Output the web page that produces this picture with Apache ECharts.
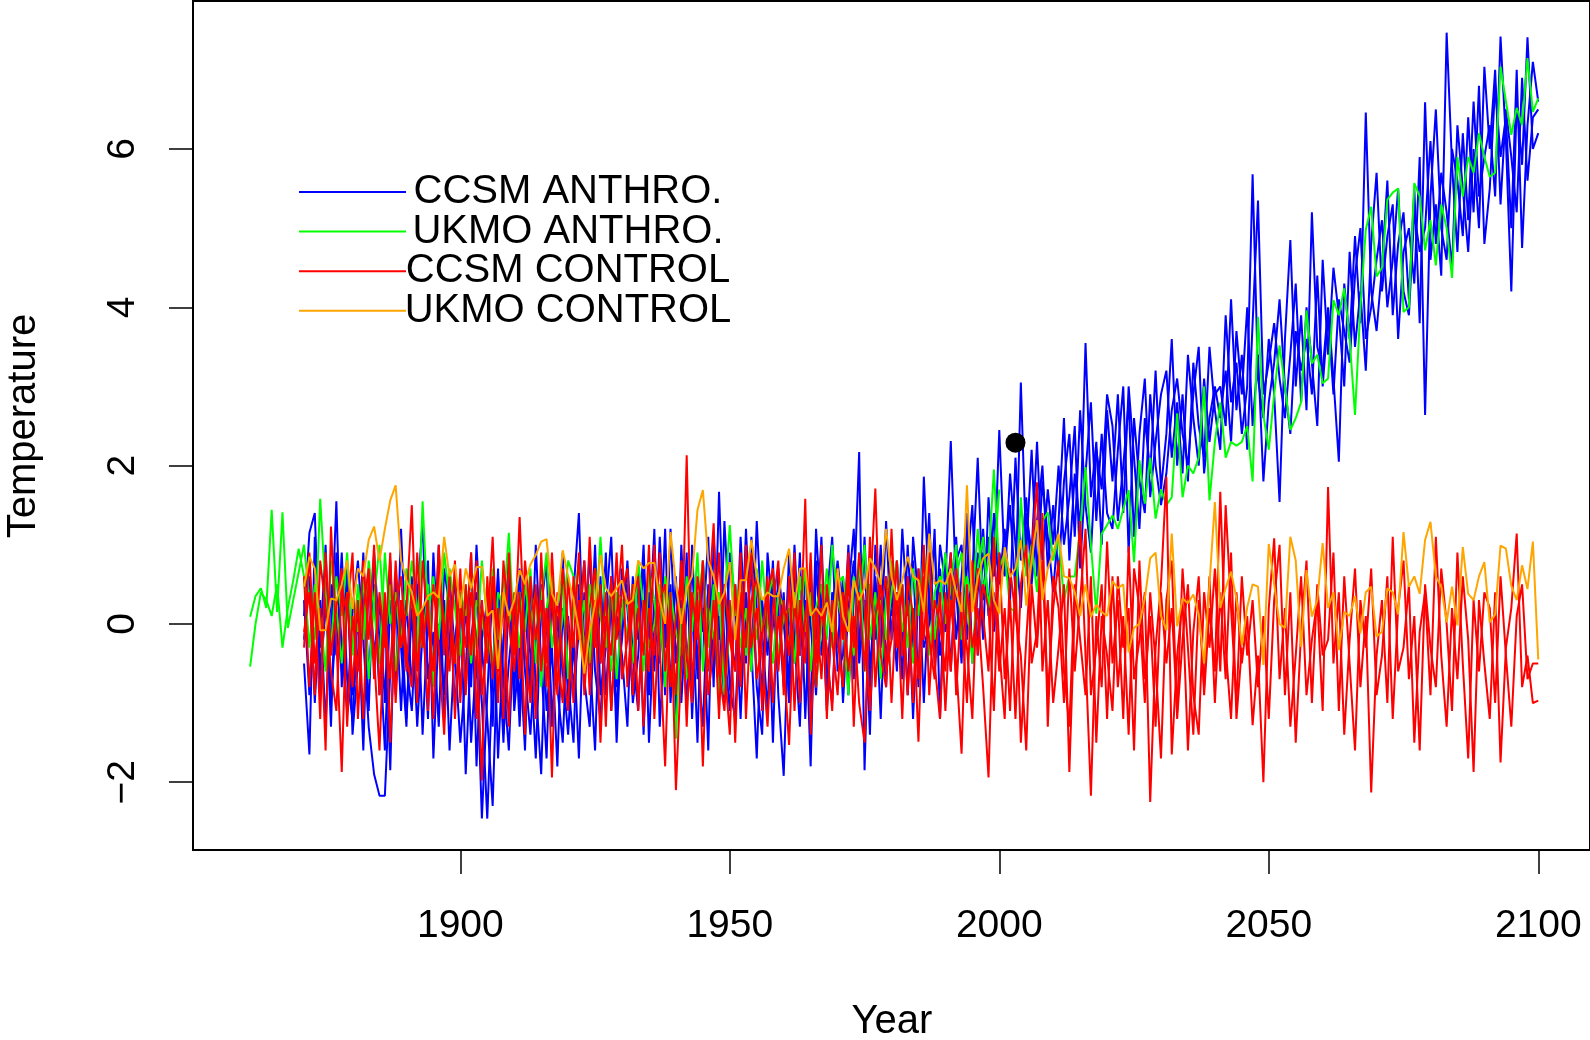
<!DOCTYPE html>
<html><head><meta charset="utf-8">
<script src="https://cdn.jsdelivr.net/npm/echarts@6/dist/echarts.min.js"></script>
<style>html,body{margin:0;padding:0;background:#fff}#c{width:1590px;height:1040px}</style>
</head><body><div id="c"></div><script>
// ---------- data ----------
const seriesNames = ['CCSM ANTHRO.', 'UKMO ANTHRO.', 'CCSM CONTROL', 'UKMO CONTROL'];
const xTickValues = [1900, 1950, 2000, 2050, 2100];
const yTickValues = [-2, 0, 2, 4, 6];
const xAxisTitle = 'Year';
const yAxisTitle = 'Temperature';
const markerPoint = [2003, 2.29];

const ccsmAnthroStart = 1871;
const ccsmAnthro1 = [
-0.5,-1.65,1.1,-0.9,0.4,-1.3,0.9,-0.3,-1.1,0.2,
0.8,-0.2,-1.3,-1.9,-2.17,-2.17,-0.6,0.4,-1.1,0.3,
-0.8,0.5,-1.4,0.1,-0.6,1.0,-1.2,-0.2,0.6,-0.9,
0.3,-1.5,-0.4,-2.46,-0.9,0.5,-1.7,-0.2,0.8,-1.1,
-0.3,-1.6,0.6,-0.8,-1.9,0.2,-1.2,-0.4,0.9,-1.0,
0.4,1.4,-0.7,-1.3,0.3,-0.5,0.9,-1.1,0.1,-0.4,
-1.3,0.6,-0.2,1.0,-0.9,0.3,-0.5,1.2,-1.0,0.1,
-0.6,0.9,-1.2,0.4,-0.1,1.1,-0.8,1.67,-0.3,-1.1,
0.5,-0.7,1.2,-0.3,-1.7,0.3,-0.4,0.8,-0.9,-1.92,
0.2,-0.5,0.9,-1.2,0.5,-0.2,1.1,-0.8,0.4,-0.3,
0.6,-0.9,0.3,2.17,-1.85,0.5,-0.2,1.0,-0.5,0.4,
-0.6,1.2,0.1,0.8,-0.8,1.86,0.3,-0.4,1.0,0.5,
2.31,0.4,-0.5,1.3,0.2,0.9,-0.2,1.6,0.6,2.45,
0.7,1.5,0.4,3.05,0.9,2.2,0.6,1.8,1.1,0.4,
1.3,2.6,0.8,1.9,1.2,3.55,1.6,2.3,1.0,2.7,
1.8,2.9,1.4,3.0,2.1,1.2,2.6,1.9,3.2,1.7,
2.4,3.6,2.0,2.9,1.8,3.3,2.5,2.1,3.5,2.7,
2.2,3.9,2.8,3.3,2.4,3.0,5.68,3.1,2.6,3.6,
2.9,1.54,3.6,4.85,3.0,3.9,2.7,5.2,3.5,3.2,
4.0,3.1,2.05,4.3,3.6,4.9,3.8,6.46,4.2,3.7,
4.5,5.6,3.9,4.8,5.2,4.1,5.5,3.8,6.59,4.6,
5.3,4.4,7.47,5.8,4.7,6.2,5.1,6.6,5.4,5.9,
6.3,5.4,7.42,6.1,4.2,6.6,5.8,7.41,6.0,6.2];
const ccsmAnthro2 = [
0.1,1.15,1.4,-0.6,0.2,-0.2,1.55,-0.8,0.5,-0.9,
-0.4,0.9,-0.7,0.5,-0.9,0.2,-1.85,0.6,-0.3,-1.3,
0.6,-0.5,0.2,-1.2,0.9,-0.4,0.3,-1.6,-0.2,0.4,
-1.9,-0.2,0.4,-1.0,-2.46,-0.6,0.7,-1.4,-0.5,0.2,
-1.3,0.3,-0.9,1.0,-0.5,-1.7,0.4,-0.8,-1.5,0.1,
-0.8,-0.1,0.8,-0.4,-1.6,0.6,-0.9,0.3,-1.2,0.7,
0.2,-0.9,0.7,-1.4,0.4,-0.6,1.1,-0.3,0.5,-1.2,
1.0,-0.5,0.3,-1.5,0.8,-0.2,0.6,-0.9,1.3,0.0,
-0.6,1.1,-0.2,0.7,-0.8,-1.4,0.9,0.1,-0.5,0.4,
-1.0,0.6,-0.3,0.2,-1.8,0.8,-0.4,0.3,1.1,-0.6,
-0.4,1.0,-0.7,0.5,0.9,-0.9,0.6,-0.3,1.3,-0.2,
0.8,-0.3,0.6,-1.2,0.4,0.2,1.4,-0.5,0.7,-0.1,
0.3,1.1,-0.3,0.7,1.5,-0.4,0.9,0.2,1.4,0.5,
1.2,0.3,2.1,0.8,1.6,0.5,1.3,2.0,0.7,1.5,
0.6,1.8,2.4,1.1,2.7,1.5,0.9,2.2,1.7,2.9,
2.5,1.3,2.0,2.8,1.1,2.4,3.1,1.6,2.3,2.9,
3.2,2.1,2.8,1.9,3.4,2.6,2.0,3.1,2.3,2.9,
3.0,2.5,4.1,2.7,3.4,2.2,3.8,5.35,2.9,3.3,
3.8,3.1,2.6,3.4,4.3,2.8,4.0,3.3,2.5,4.6,
3.4,4.5,3.9,3.0,4.7,3.5,4.2,3.2,4.8,5.7,
4.2,4.9,5.3,3.6,4.7,5.0,4.3,5.9,2.64,5.4,
6.5,5.0,4.6,6.0,5.6,4.9,6.4,5.2,6.8,4.8,
5.5,6.8,5.9,6.4,5.0,7.0,4.75,6.3,7.1,6.6];
const ccsmAnthro3 = [
-0.2,0.6,-1.0,0.3,-1.3,0.5,-0.4,0.9,-0.7,-1.2,
0.2,-1.6,0.6,-0.4,0.3,-1.0,0.8,-0.9,1.2,-0.5,
-1.1,0.3,1.3,-0.7,-0.1,-1.3,0.7,0.2,-1.0,-0.3,
0.4,-0.8,1.0,-0.3,-1.2,-2.3,-0.1,-1.5,0.5,-0.9,
0.7,-0.6,-1.4,-0.2,0.5,-1.1,-0.3,-1.8,0.2,-0.7,
-1.5,0.5,-0.3,0.9,-0.6,-1.2,0.2,1.1,-0.8,-0.2,
0.8,-0.4,-1.1,0.3,-0.2,1.2,-1.3,0.0,-0.7,0.6,
-1.0,0.2,0.7,-0.4,-1.3,0.5,-0.6,0.1,-1.0,0.9,
0.3,-1.2,0.4,-0.6,1.3,-0.1,-1.1,0.6,0.2,-0.8,
0.9,-0.2,-1.3,0.7,0.0,-0.9,0.5,-1.1,0.2,0.8,
0.1,0.4,1.2,-0.5,0.3,-1.4,1.0,0.2,-0.8,0.7,
-0.2,0.5,-0.9,1.1,0.3,-0.3,0.0,1.2,-1.2,0.9,
-0.6,0.8,1.0,-0.2,0.6,2.1,0.3,1.1,-0.1,0.9,
0.6,1.9,1.0,0.2,1.4,0.9,2.3,0.8,1.7,1.0,
2.0,1.0,1.6,2.5,0.7,1.9,2.8,1.3,2.4,1.4,
1.2,2.2,3.0,0.9,2.6,1.8,1.4,2.9,2.0,1.5,
1.9,2.7,3.1,2.4,2.0,2.9,3.5,1.9,2.6,3.0,
2.6,3.2,2.3,3.7,2.9,4.0,2.5,3.4,1.8,2.8,
3.3,4.1,3.0,2.4,3.7,3.2,3.6,2.9,4.4,3.0,
3.9,2.9,4.1,3.7,3.3,4.4,5.0,3.6,4.0,4.6,
5.1,4.0,4.6,5.5,4.2,3.9,5.2,4.7,5.0,6.1,
4.8,5.7,5.2,4.5,6.3,5.5,4.7,6.0,5.0,7.04,
6.0,7.0,5.3,6.5,5.9,5.2,6.9,5.6,6.4,6.5];
const ccsmAnthro4 = [
0.3,-0.9,0.5,-0.3,1.0,-1.0,0.1,-0.6,0.7,-1.4,
-0.5,0.4,-1.1,0.9,-0.2,-1.6,0.3,-0.8,0.1,-1.2,
0.2,-1.3,-0.1,0.8,-1.7,0.0,-0.9,0.6,-0.4,-1.5,
-0.6,0.9,-1.8,-0.2,0.3,-1.3,0.6,-0.7,-1.6,0.1,
-1.0,0.5,-0.4,-1.7,0.2,0.8,-1.3,0.1,-0.6,-1.4,
-0.2,-1.7,0.4,-0.5,1.0,-0.9,-0.3,0.6,-1.5,0.2,
0.5,-1.0,-0.4,0.8,-1.5,0.1,0.4,-0.9,1.2,-0.5,
0.3,-1.1,1.0,-0.7,0.2,-1.6,1.1,-0.2,0.5,-0.8,
-1.2,0.3,-0.5,1.1,0.2,-0.9,0.5,-1.5,0.7,0.0,
-0.7,1.0,-0.4,0.3,-1.1,1.2,0.0,-0.5,-1.0,0.6,
-1.0,0.2,0.8,-0.3,1.1,-0.6,0.4,-1.2,0.6,0.1,
0.4,-0.7,1.0,-0.3,0.7,-1.0,0.5,1.0,-0.4,0.2,
0.9,-0.2,0.6,1.4,-0.5,0.4,1.2,0.1,1.0,0.6];

const ukmoAnthroStart = 1861;
const ukmoAnthro1 = [
0.09,0.35,0.45,0.2,1.44,0.15,1.41,-0.05,0.3,0.65,
1.0,0.3,-0.2,1.58,0.4,-0.3,0.6,0.1,0.9,-0.4,
0.5,-0.2,0.8,0.2,-0.5,0.9,0.0,0.4,-0.3,0.7,
0.3,-0.4,1.55,0.1,0.6,-0.2,0.9,0.3,-0.5,0.4,
0.1,0.6,-0.3,0.8,0.0,-0.6,0.4,0.2,1.15,-0.2,
0.4,-0.1,0.7,-0.5,0.3,0.9,-0.3,0.2,0.6,-0.7,
0.2,0.8,-0.4,0.5,-0.1,1.1,0.0,-0.6,0.4,0.3,
-0.2,0.5,0.1,-0.6,0.7,0.3,-0.4,0.6,0.0,-1.45,
0.2,-0.7,0.4,0.1,0.8,-0.3,0.5,-1.0,0.3,1.25,
0.1,0.6,-0.4,0.3,-0.2,0.8,0.0,-0.5,0.4,0.2,
-0.3,0.4,0.1,0.7,-0.6,0.2,0.5,-0.2,1.0,0.3,
0.0,-0.9,0.6,0.2,1.0,-0.2,0.4,-0.7,0.3,0.8,
0.2,0.5,-0.3,0.7,0.1,0.9,-0.4,0.4,0.6,0.0,
0.5,1.0,-0.2,0.6,0.3,1.2,0.4,0.8,1.95,0.7,
0.9,0.2,0.15,1.6,0.6,1.0,0.4,1.3,1.41,0.8,
1.1,0.3,0.6,0.6,1.2,1.98,1.0,0.13,1.14,1.25,
1.37,1.2,1.45,1.69,0.78,2.07,1.52,2.1,1.33,1.7,
1.5,1.6,2.66,1.6,2.0,1.9,2.1,3.0,1.56,2.3,
2.8,2.1,2.3,2.25,2.3,2.5,1.8,3.88,2.64,2.2,
2.9,3.52,3.0,2.45,2.6,2.8,3.96,3.29,3.4,3.04,
3.1,4.09,3.9,4.24,3.6,2.64,4.0,4.98,5.27,4.39,
4.5,5.36,5.45,5.5,3.94,4.0,5.57,5.4,4.72,5.1,
4.53,5.3,5.0,4.37,5.9,5.4,5.9,5.7,6.2,5.9,
5.65,5.7,7.04,6.6,6.18,6.52,6.3,7.15,6.47,6.64];
const ukmoAnthro2 = [
-0.54,0.0,0.4,0.3,0.1,0.5,-0.3,0.2,0.55,0.95,
0.6,-0.3,0.5,0.1,-0.6,0.8,0.2,-0.5,0.4,0.3,
-0.1,0.6,-0.7,0.3,1.0,-0.2,0.5,-0.6,0.2,0.1,
0.8,0.2,-0.3,0.5,-0.8,0.4,-0.1,0.7,0.2,-0.4,
0.5,-0.5,0.3,0.1,-0.4,0.7,-0.2,0.6,0.0,0.3,
-0.3,0.5,0.0,0.4,-0.8,0.2,0.6,-0.4,0.1,0.8,
0.6,-0.2,0.3,-0.5,0.7,0.1,-0.3,0.5,-0.7,0.2,
0.3,-0.5,0.8,0.2,-0.3,0.0,0.5,-0.8,0.4,-0.1,
-0.4,0.6,-0.1,0.9,-0.6,0.2,-0.2,0.4,-0.9,0.0,
0.5,-0.3,0.2,-0.6,0.7,-0.1,0.3,0.6,-0.4,0.1,
0.2,-0.5,0.6,-0.1,0.4,-0.8,0.0,0.7,-0.3,0.5,
0.6,0.1,-0.4,0.9,-0.6,0.5,0.0,0.3,-0.2,0.4,
0.8,-0.1,0.3,-0.5,0.6,0.2,0.7,-0.2,0.4,0.9,
0.1,0.6,0.9,0.3,-0.5,0.7,1.1,0.2,0.8,1.7];

const ccsmControlStart = 1871;
const ccsmControl1 = [
-0.3,0.9,-0.5,0.2,-1.6,1.23,-0.2,-1.87,0.4,-0.8,
0.3,-1.2,0.6,-0.4,-1.6,0.1,-0.7,0.8,-0.3,0.2,
1.5,-0.6,0.2,-1.1,0.5,-0.3,-1.4,0.3,-0.5,0.7,
-0.9,0.4,-0.2,-1.98,0.6,-0.7,0.2,-1.2,0.9,-0.4,
1.35,-0.3,-1.0,0.5,-0.6,0.2,-1.94,0.4,-0.5,-1.1,
0.6,-0.2,0.8,-0.9,0.3,-1.5,0.1,-0.4,0.9,-0.7,
-0.2,0.5,-1.1,0.3,-0.6,1.0,-0.3,-1.8,0.4,-2.1,
-0.5,2.13,-0.8,0.3,-1.8,0.2,1.27,-0.6,-1.1,0.3,
-1.5,0.4,-0.3,0.9,-0.7,-0.2,0.6,-1.0,0.1,-0.5,
-1.53,0.3,-0.4,1.58,-1.4,0.2,-0.7,0.5,-0.2,-0.9,
0.4,-0.6,0.1,-1.0,-1.5,0.3,1.71,-0.4,-0.8,1.2,
-0.3,0.5,-0.9,0.2,-1.49,0.6,-0.2,-0.7,0.4,-1.1,
0.3,-0.5,-1.64,0.5,-0.3,0.2,-0.8,-1.94,0.4,-0.6,
0.2,-1.1,0.6,-1.5,-0.2,0.9,1.79,-0.6,0.3,-1.0,
-0.3,0.5,-1.87,0.2,1.3,-0.4,-2.17,0.1,-0.8,1.04,
-0.5,0.3,-1.2,0.98,-0.7,-0.2,0.4,-2.25,-0.3,0.5,
1.86,-1.65,-0.4,0.3,-1.6,-0.1,0.6,-0.9,0.2,-0.6,
1.67,-0.3,-1.2,0.4,-0.5,0.1,-1.28,-0.4,-2.0,0.2,
1.08,-0.7,0.2,-1.3,-0.4,0.6,-0.9,-0.2,0.3,-1.1,
1.73,-0.5,0.4,-1.4,-0.2,0.7,-0.8,0.1,-2.13,-0.4,
0.3,-1.0,1.1,-0.6,-0.3,0.5,-1.5,-0.1,0.4,-0.9,
1.1,-0.4,-1.3,0.2,-0.7,0.6,-0.2,-1.87,0.3,-0.5,
-1.2,0.4,-1.75,-0.3,0.2,1.14,-0.8,-0.4,-1.0,-0.97];
const ccsmControl2 = [
0.6,-0.8,0.4,-1.2,0.9,-0.4,0.2,0.7,-1.3,0.1,
-0.6,0.8,-0.2,1.0,-0.9,0.4,-1.5,0.2,0.6,-0.4,
-0.8,0.9,-0.3,0.3,-1.2,0.7,0.0,-0.6,0.8,-1.0,
0.5,-0.4,0.8,-0.9,-0.1,1.1,-0.6,0.3,-1.3,0.4,
-0.7,0.8,0.1,-1.2,0.9,-0.5,0.4,-0.9,0.7,0.0,
-1.0,0.3,-0.6,1.1,-0.3,0.5,-1.3,0.6,-0.2,0.4,
0.7,-0.9,0.2,-0.4,1.0,-1.2,0.3,0.5,-0.8,0.1,
0.6,-1.3,0.4,-0.2,0.8,-0.9,-0.3,0.9,-0.5,-1.4,
0.5,-0.8,1.0,-0.3,0.2,-1.1,0.4,0.7,-0.6,0.3,
-0.4,0.9,-1.0,0.1,0.6,-0.5,1.0,-1.2,0.3,-0.2,
-0.8,0.6,-0.3,0.9,0.2,-1.1,0.1,0.5,-0.6,-0.2,
0.8,-0.4,0.3,-1.0,0.7,-0.2,0.9,-0.5,-1.2,0.4,
-0.6,0.7,0.1,-1.0,0.8,-0.4,0.5,0.2,-1.1,0.9,
-0.7,0.3,-1.2,0.5,1.0,-0.5,-0.1,1.4,-1.3,0.6,
0.2,-1.0,0.7,-0.6,0.3,1.2,-0.9,-0.3,0.5,-1.2,
0.6,-0.8,0.1,-1.4,0.7,0.2,-1.0,0.4,-0.5,-1.7,
0.3,0.8,-1.2,-0.2,0.5,-0.9,-1.4,0.4,-0.3,0.7,
-0.6,1.5,0.2,-1.0,0.6,-0.4,0.3,-0.8,0.1,-1.2,
0.3,1.0,-0.9,0.4,-1.5,-0.1,0.8,-1.0,0.5,-0.4,
-0.2,0.9,-1.1,0.6,-0.5,-1.6,0.3,-0.3,0.7,-0.9,
-0.4,0.6,-1.2,0.2,0.8,-0.7,0.1,-1.6,0.5,-0.3,
-0.8,0.7,0.0,-1.1,0.9,-0.5,-1.7,0.3,-0.6,0.4,
0.2,-1.0,0.6,-0.4,-1.3,0.1,0.5,-0.7,-0.5,-0.5];
const ccsmControl3 = [
-0.1,0.4,-0.9,0.8,0.2,-0.6,-1.1,0.5,0.1,0.9,
-1.2,0.2,0.7,-0.7,0.4,-0.3,0.9,-1.0,0.3,-0.6,
0.5,-1.0,0.8,0.0,-0.6,1.0,-0.4,0.6,-1.2,0.2,
-0.3,0.9,-1.2,0.3,-0.5,0.6,-1.0,0.8,0.0,-0.6,
0.4,-1.4,0.6,-0.2,0.3,-0.8,0.9,-0.4,-1.0,0.6,
-0.3,0.9,-0.9,0.2,0.7,-0.5,0.4,-1.1,0.1,1.0,
-0.8,0.3,0.6,-1.3,0.2,-0.4,0.9,-0.6,0.3,-0.9,
0.8,-0.4,-1.0,0.6,0.1,-0.6,0.3,-1.2,0.5,-0.2,
-0.6,0.9,-1.2,0.3,0.6,-0.4,-1.3,0.2,0.8,-0.9,
0.6,-1.1,0.3,-0.5,0.9,-0.8,0.2,-0.3,-1.1,0.7,
-0.2,0.9,-1.3,0.4,-0.6,1.1,-0.8,0.2,0.6,-1.0,
0.4,-1.2,0.6,0.1,-0.7,1.0,-0.9,0.3,0.0,-0.6,
0.9,-0.9,0.4,-0.3,-1.2,0.7,0.1,-0.6,1.1,-0.3,
-1.2,0.7,0.1,-0.4,-1.6,0.5,-0.3,0.8,-0.9,0.2,
0.8,-0.6,-1.3,0.5,-0.2,-0.9,0.6,-1.5,0.1,-0.4,
-1.1,0.6,-0.3,0.2,-1.6,0.8,-0.7,0.1,-1.3,0.4,
-0.5,0.2,-1.1,0.7,-0.3,-1.4,0.3,-0.8,0.6,-1.0,
0.4,-0.7,0.9,-1.2,-0.3];

const ukmoControlStart = 1871;
const ukmoControl = [
0.47,0.85,0.7,-0.08,-0.08,0.32,0.3,0.5,0.8,0.19,
0.7,0.6,1.06,1.23,0.8,1.2,1.56,1.75,0.8,0.55,
0.4,0.1,0.2,0.35,0.4,0.33,1.1,0.6,0.75,0.2,
0.7,0.45,0.72,0.72,0.1,0.17,-0.57,0.4,0.1,0.3,
0.68,0.5,0.75,0.87,1.04,1.07,0.38,0.23,0.93,0.6,
0.3,-0.08,-0.63,-0.1,0.25,0.87,0.45,0.35,0.45,0.55,
0.25,0.3,0.8,0.7,0.77,0.77,0.3,0.0,1.16,0.5,
0.0,0.45,0.6,1.44,1.69,0.8,0.6,0.25,0.4,0.78,
-0.2,0.55,0.55,1.06,0.6,0.3,0.4,0.35,0.35,0.7,
0.95,0.2,0.7,0.7,0.1,0.2,0.1,0.27,-0.1,0.7,
0.1,-0.1,0.55,0.3,0.45,0.83,0.7,0.5,1.2,0.6,
0.3,0.55,0.85,0.6,0.55,0.15,1.14,0.5,0.55,0.5,
0.7,0.4,0.15,1.75,0.15,0.59,0.83,0.89,0.3,0.13,
0.97,0.59,0.7,1.06,0.23,0.8,1.31,0.3,0.7,0.9,
1.14,0.6,0.58,0.4,0.1,0.5,0.09,0.24,0.15,0.1,
0.54,0.45,0.5,-0.36,-0.05,0.0,0.32,0.83,0.9,0.1,
-0.08,1.14,-0.03,0.32,0.26,0.37,0.12,-0.5,0.5,1.54,
0.2,0.45,0.66,0.32,-0.27,0.21,0.5,0.47,-0.52,1.01,
0.5,0.0,-0.05,1.1,0.8,-0.29,0.68,0.09,0.3,1.02,
0.2,0.4,-0.33,0.15,0.1,0.35,-0.12,0.4,0.47,-0.16,
-0.1,0.45,0.4,0.12,1.16,0.47,0.6,0.38,1.06,1.29,
0.6,0.47,0.02,0.47,-0.02,0.97,0.38,0.3,0.6,0.78,
0.02,0.12,0.99,0.95,0.48,0.3,0.74,0.44,1.04,-0.45];

// ---------- chart ----------
const COLORS = { blue: '#0000ff', green: '#00ff00', red: '#ff0000', orange: '#ffa500' };
const legendColors = [COLORS.blue, COLORS.green, COLORS.red, COLORS.orange];
const FONT = '"Liberation Sans", Arial, Helvetica, sans-serif';
const toPairs = (start, arr) => arr.map((v, i) => [start + i, v]);
const runs = [
  [ccsmAnthroStart, ccsmAnthro1, COLORS.blue, seriesNames[0]],
  [ccsmAnthroStart, ccsmAnthro2, COLORS.blue, seriesNames[0]],
  [ccsmAnthroStart, ccsmAnthro3, COLORS.blue, seriesNames[0]],
  [ccsmAnthroStart, ccsmAnthro4, COLORS.blue, seriesNames[0]],
  [ukmoAnthroStart, ukmoAnthro1, COLORS.green, seriesNames[1]],
  [ukmoAnthroStart, ukmoAnthro2, COLORS.green, seriesNames[1]],
  [ccsmControlStart, ccsmControl1, COLORS.red, seriesNames[2]],
  [ccsmControlStart, ccsmControl2, COLORS.red, seriesNames[2]],
  [ccsmControlStart, ccsmControl3, COLORS.red, seriesNames[2]],
  [ukmoControlStart, ukmoControl, COLORS.orange, seriesNames[3]]
];
const series = runs.map(([s, arr, col, nm]) => ({
  type: 'line', name: nm, data: toPairs(s, arr), showSymbol: false, symbol: 'none',
  lineStyle: { color: col, width: 2 }, itemStyle: { color: col }, silent: true, animation: false
}));
series.push({
  type: 'scatter', data: [markerPoint], symbol: 'circle', symbolSize: 20,
  itemStyle: { color: '#000', opacity: 1 }, silent: true, animation: false, z: 5
});

const GRID = { left: 193, top: 1, width: 1398, height: 849 };
const graphics = [];
seriesNames.forEach((nm, i) => {
  const y = 192 + 39.6 * i;
  graphics.push({ type: 'line', shape: { x1: 299, y1: y, x2: 406, y2: y }, style: { stroke: legendColors[i], lineWidth: 2 }, z: 10 });
  graphics.push({ type: 'text', x: 568, y: y, style: { text: nm, font: '40px ' + FONT, fill: '#000', align: 'center', verticalAlign: 'middle' }, z: 11 });
});
graphics.push({ type: 'text', x: 892, y: 1022, style: { text: xAxisTitle, font: '40px ' + FONT, fill: '#000', align: 'center', verticalAlign: 'middle' } });
graphics.push({ type: 'text', x: 24, y: 426, rotation: Math.PI / 2, style: { text: yAxisTitle, font: '40px ' + FONT, fill: '#000', align: 'center', verticalAlign: 'middle' } });

const chart = echarts.init(document.getElementById('c'), null, { renderer: 'canvas' });
chart.setOption({
  animation: false,
  backgroundColor: '#fff',
  grid: Object.assign({ show: true, borderColor: '#000', borderWidth: 2, backgroundColor: 'transparent' }, GRID),
  xAxis: {
    type: 'value', min: 1850.4, max: 2109.6,
    splitLine: { show: false },
    axisLine: { show: true, onZero: false, lineStyle: { color: '#000', width: 2 } },
    axisTick: { show: true, customValues: xTickValues, length: 24, inside: false, lineStyle: { color: '#000', width: 1.5 } },
    axisLabel: { customValues: xTickValues, fontSize: 39, fontFamily: FONT, color: '#000', margin: 57,
      formatter: v => String(v) }
  },
  yAxis: {
    type: 'value', min: -2.857, max: 7.87,
    splitLine: { show: false },
    axisLine: { show: true, onZero: false, lineStyle: { color: '#000', width: 2 } },
    axisTick: { show: true, customValues: yTickValues, length: 24, inside: false, lineStyle: { color: '#000', width: 1.5 } },
    axisLabel: { customValues: yTickValues, rotate: 90, fontSize: 39, fontFamily: FONT, color: '#000', margin: 50,
      formatter: v => (v < 0 ? '\u2212' + Math.abs(v) : String(v)) }
  },
  series: series,
  graphic: graphics
});
</script></body></html>
